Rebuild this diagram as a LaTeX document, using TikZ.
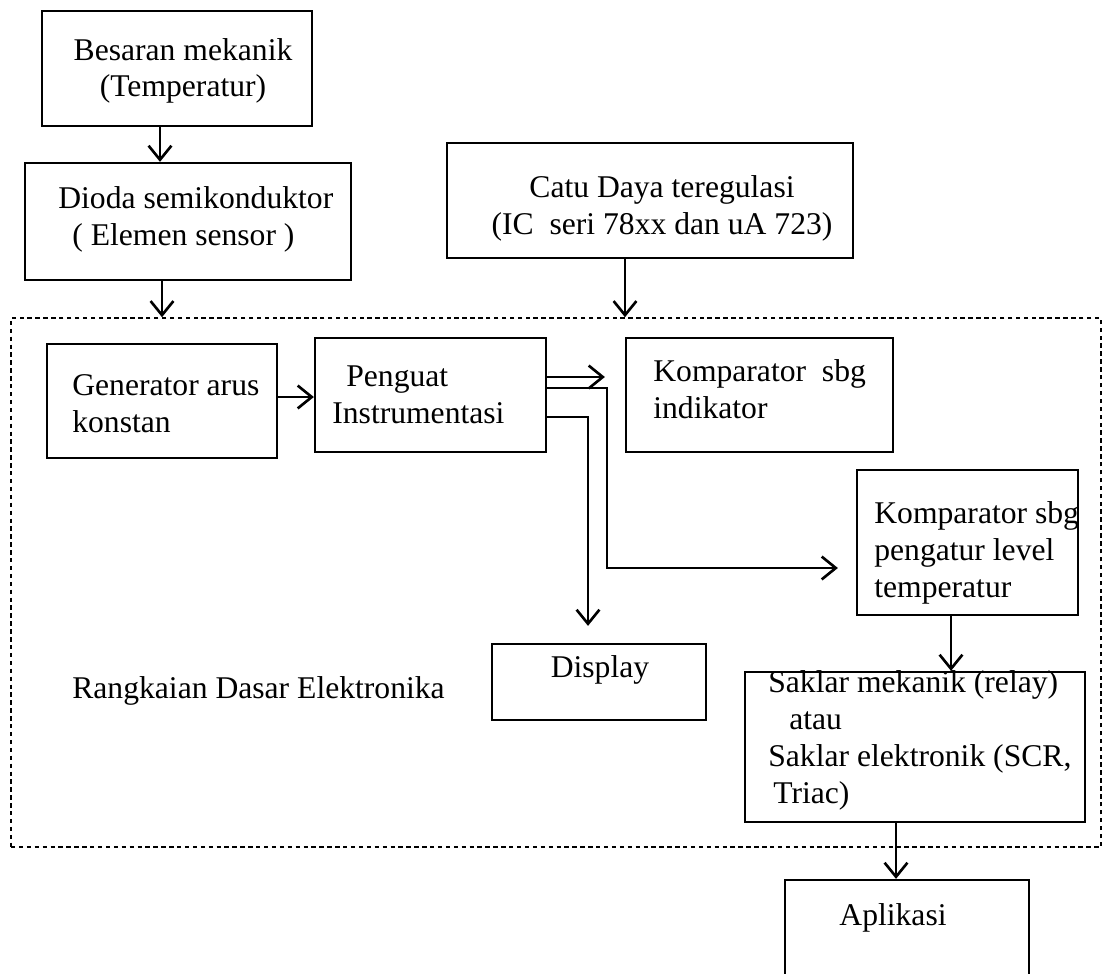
\documentclass[tikz,border=0pt]{standalone}
\usepackage{fontspec}
\setmainfont{Liberation Serif}
\usetikzlibrary{arrows.meta,fit}
\begin{document}
\begin{tikzpicture}[x=0.02cm,y=-0.02cm,
  box/.style={draw, line width=1.3pt, inner sep=0pt},
  dbox/.style={draw, line width=0.9pt, dash pattern=on 2.5pt off 2pt, inner sep=0pt},
  txt/.style={font=\fontsize{18}{21}\selectfont, inner sep=0pt},
  arr/.style={line width=1.5pt, -{Straight Barb[length=8pt,width=13pt]}}]
\useasboundingbox (0,0) rectangle (1104,973);
% boxes
\node[box, fit={(42,11) (312,126)}] (bes) {};
\node[box, fit={(25,163) (351,280)}] (dio) {};
\node[box, fit={(447,143) (853,258)}] (catu) {};
\node[dbox, fit={(11,318) (1101,847)}] (rde) {};
\node[box, fit={(47,344) (277,458)}] (gen) {};
\node[box, fit={(315,338) (546,452)}] (peng) {};
\node[box, fit={(626,338) (893,452)}] (kind) {};
\node[box, fit={(857,470) (1078,615)}] (klev) {};
\node[box, fit={(492,644) (706,720)}] (disp) {};
\node[box, fit={(745,672) (1085,822)}] (sak) {};
\node[box, fit={(785,880) (1029,1000)}] (apl) {};
% texts (anchor = baseline of the last line)
\node[txt, align=center, anchor=base] (bes-t) at (183,97) {Besaran mekanik\\(Temperatur)};
\node[txt, align=left, anchor=base west] (dio-t) at (58,245) {Dioda semikonduktor\\\hspace*{0.28cm}( Elemen sensor )};
\node[txt, align=center, anchor=base] (catu-t) at (662,234) {Catu Daya teregulasi\\(IC\ \ seri 78xx dan uA 723)};
\node[txt, align=left, anchor=base west] (gen-t) at (72,432) {Generator arus\\konstan};
\node[txt, align=left, anchor=base west] (peng-t) at (332,423) {\hspace*{0.28cm}Penguat\\Instrumentasi};
\node[txt, align=left, anchor=base west] (kind-t) at (653,418) {Komparator\ \ sbg\\indikator};
\node[txt, align=left, anchor=base west] (klev-t) at (874,597) {Komparator sbg\\pengatur level\\temperatur};
\node[txt, anchor=base] (disp-t) at (600,677) {Display};
\node[txt, anchor=base west] (rde-t) at (72,698) {Rangkaian Dasar Elektronika};
\node[txt, align=left, anchor=base west] (sak-t) at (768,803) {Saklar mekanik (relay)\\\hspace*{0.42cm}atau\\Saklar elektronik (SCR,\\\hspace*{0.1cm}Triac)};
\node[txt, anchor=base] (apl-t) at (893,925) {Aplikasi};
% helper coordinates
\coordinate (v160) at (160,0);
\coordinate (v162) at (162,0);
\coordinate (v625) at (625,0);
\coordinate (v588) at (588,0);
\coordinate (v607) at (607,0);
\coordinate (v951) at (951,0);
\coordinate (v896) at (896,0);
\coordinate (h397) at (0,397);
\coordinate (h377) at (0,377);
\coordinate (h388) at (0,388);
\coordinate (h417) at (0,417);
\coordinate (h568) at (0,568);
% connectors
\draw[arr] (v160 |- bes.south) -- (v160 |- dio.north);
\draw[arr] (v162 |- dio.south) -- (v162 |- rde.north);
\draw[arr] (v625 |- catu.south) -- (v625 |- rde.north);
\draw[arr] (gen.east |- h397) -- (peng.west |- h397);
\draw[arr, shorten >=0.4cm] (peng.east |- h377) -- (kind.west |- h377);
\draw[arr, shorten >=0.36cm] (peng.east |- h388) -| (v607 |- h568) -- (klev.west |- h568);
\draw[arr, shorten >=0.34cm] (peng.east |- h417) -| (v588 |- disp.north);
\draw[arr] (v951 |- klev.south) -- (v951 |- sak.north);
\draw[arr] (v896 |- sak.south) -- (v896 |- apl.north);
\end{tikzpicture}
\end{document}
